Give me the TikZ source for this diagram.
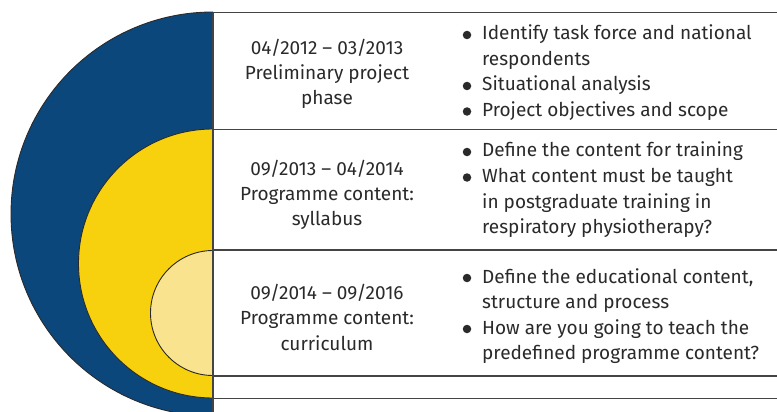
\documentclass[tikz,border=0pt]{standalone}
\usepackage{fontspec}
\setmainfont{Fira Sans}
\definecolor{cblue}{HTML}{0C477C}
\definecolor{cyel}{HTML}{F7D10E}
\definecolor{clyel}{HTML}{FAE38E}
\definecolor{cline}{HTML}{444444}
\definecolor{ctext}{HTML}{2A2A2A}
\tikzset{
  txt/.style={inner sep=0pt, text=ctext, font=\fontsize{19}{25}\selectfont},
  ltxt/.style={txt, anchor=base},
  rtxt/.style={txt, anchor=base west},
  rule/.style={draw=cline, line width=1.2pt},
  disc/.style={circle, fill=ctext, minimum size=8.5pt, inner sep=0pt}
}
\begin{document}
\begin{tikzpicture}[x=1pt,y=-1pt]
\fill[white] (0,0) rectangle (777,412);
% nested half circles
\begin{scope}
  \clip (0,0) rectangle (213,412);
  \filldraw[fill=cblue, draw=ctext, line width=0.9pt] (213,214) circle[radius=202pt];
  \filldraw[fill=cyel, draw=ctext, line width=0.9pt] (213,263.5) circle[radius=134.5pt];
  \filldraw[fill=clyel, draw=ctext, line width=0.9pt] (213,313) circle[radius=62.5pt];
\end{scope}
% rules
\draw[rule] (213,12.7) -- (777,12.7);
\draw[rule] (213,129.7) -- (777,129.7);
\draw[rule] (213,250) -- (777,250);
\draw[rule] (213,376) -- (777,376);
\draw[rule] (213,398.5) -- (777,398.5);
\draw[rule] (213,12.7) -- (213,412);
% section 1
\node[ltxt] (d1) at (327,55) {04/2012 – 03/2013};
\node[ltxt] (p1a) at (327,80) {Preliminary project};
\node[ltxt] (p1b) at (327,105) {phase};
\node[disc] (b11) at (467,35) {};
\node[rtxt] (t11a) at (482,40) {Identify task force and national};
\node[rtxt] (t11b) at (482,65.5) {respondents};
\node[disc] (b12) at (467,86) {};
\node[rtxt] (t12) at (482,91) {Situational analysis};
\node[disc] (b13) at (467,111.5) {};
\node[rtxt] (t13) at (482,116.5) {Project objectives and scope};
% section 2
\node[ltxt] (d2) at (327,175) {09/2013 – 04/2014};
\node[ltxt] (p2a) at (327,200) {Programme content:};
\node[ltxt] (p2b) at (327,225) {syllabus};
\node[disc] (b21) at (467,152) {};
\node[rtxt] (t21) at (482,157) {Define the content for training};
\node[disc] (b22) at (467,177.5) {};
\node[rtxt] (t22a) at (482,182.5) {What content must be taught};
\node[rtxt] (t22b) at (482,208) {in postgraduate training in};
\node[rtxt] (t22c) at (482,233.5) {respiratory physiotherapy?};
% section 3
\node[ltxt] (d3) at (327,299) {09/2014 – 09/2016};
\node[ltxt] (p3a) at (327,324.5) {Programme content:};
\node[ltxt] (p3b) at (327,350) {curriculum};
\node[disc] (b31) at (467,278) {};
\node[rtxt] (t31a) at (482,283) {Define the educational content,};
\node[rtxt] (t31b) at (482,308.5) {structure and process};
\node[disc] (b32) at (467,329) {};
\node[rtxt] (t32a) at (482,334) {How are you going to teach the};
\node[rtxt] (t32b) at (482,359.5) {predefined programme content?};
\pgfresetboundingbox
\useasboundingbox (0,0) rectangle (777,412);
\end{tikzpicture}
\end{document}
